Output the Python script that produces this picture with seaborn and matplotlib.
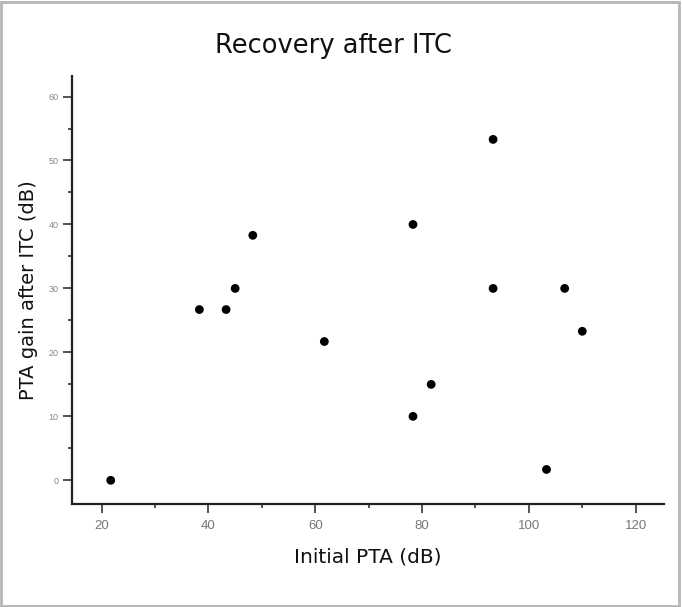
import matplotlib
matplotlib.use('Agg')
import matplotlib.pyplot as plt
import seaborn as sns
import pandas as pd
from matplotlib.patches import Rectangle
from matplotlib.ticker import MultipleLocator

# values
initial_pta = [21.7, 38.3, 43.3, 45.0, 48.3, 61.7, 78.3, 78.3, 81.7, 93.3, 93.3, 103.3, 106.7, 110.0]
pta_gain = [0.0, 26.7, 26.7, 30.0, 38.3, 21.7, 40.0, 10.0, 15.0, 53.3, 30.0, 1.7, 30.0, 23.3]

df = pd.DataFrame({'Initial PTA (dB)': initial_pta, 'PTA gain after ITC (dB)': pta_gain})

sns.set_style('ticks')
plt.rcParams['font.family'] = ['DejaVu Sans']

fig = plt.figure(figsize=(6.82, 6.07), dpi=100)
ax = fig.add_axes([0.1056, 0.1697, 0.868, 0.705])

sns.scatterplot(data=df, x='Initial PTA (dB)', y='PTA gain after ITC (dB)',
                color='black', s=40, edgecolor='none', ax=ax)

ax.set_xlim(14.45, 125.3)
ax.set_ylim(-3.7, 63.2)
ax.xaxis.set_major_locator(MultipleLocator(20))
ax.xaxis.set_minor_locator(MultipleLocator(10))
ax.yaxis.set_major_locator(MultipleLocator(10))
ax.yaxis.set_minor_locator(MultipleLocator(5))

for side in ['top', 'right']:
    ax.spines[side].set_visible(False)
for side in ['left', 'bottom']:
    ax.spines[side].set_linewidth(1.6)
    ax.spines[side].set_color('#222222')

ax.tick_params(which='major', length=6.5, width=1.2, color='#333333', pad=5)
ax.tick_params(which='minor', length=3, width=1.2, color='#333333')
ax.tick_params(axis='x', labelsize=9.5, labelcolor='#777777')
ax.tick_params(axis='y', labelsize=6.5, labelcolor='#888888', pad=3)
for lab in ax.get_xticklabels() + ax.get_yticklabels():
    lab.set_family('Liberation Sans')

ax.set_xlabel('Initial PTA (dB)', fontsize=14.5, color='#111111', labelpad=11)
ax.set_ylabel('PTA gain after ITC (dB)', fontsize=14, color='#111111', labelpad=8)

fig.text(333.5 / 682, 1 - 46 / 607, 'Recovery after ITC', fontsize=18.5,
         ha='center', va='center', color='#111111')

fig.patches.append(Rectangle((0.002, 0.002), 0.994, 0.995, transform=fig.transFigure,
                             fill=False, edgecolor='#b5b5b5', linewidth=2))

fig.savefig('out.png', dpi=100)
